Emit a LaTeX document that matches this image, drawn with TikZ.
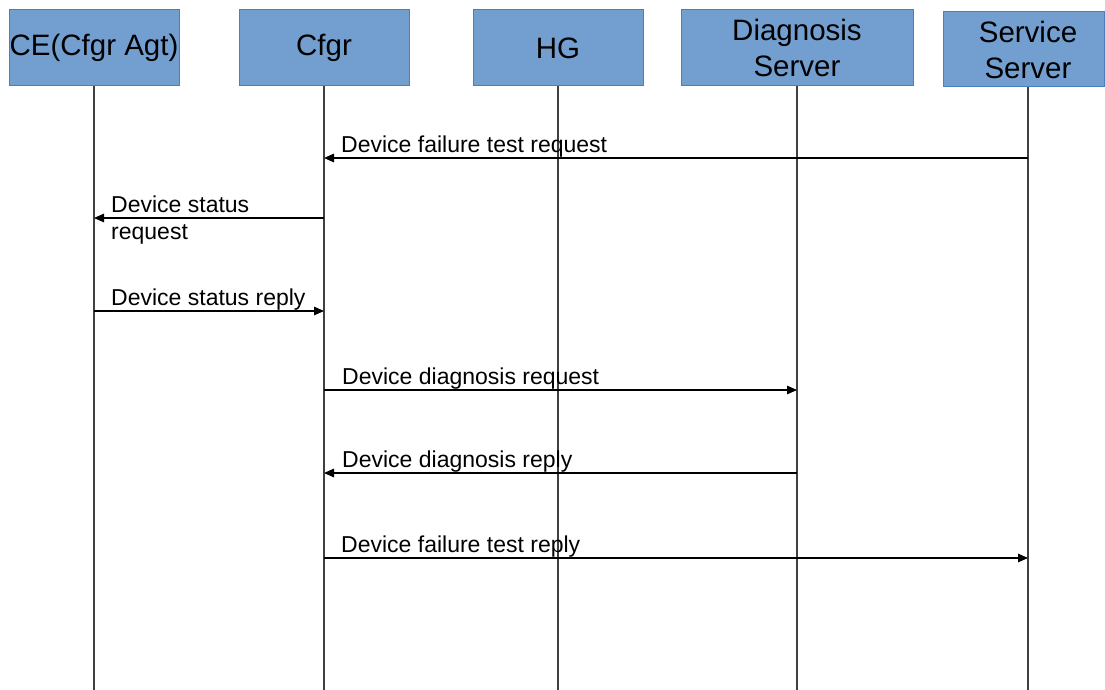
\documentclass[tikz,border=0pt]{standalone}
\usepackage{fontspec}
\setmainfont{Liberation Sans}
\usetikzlibrary{arrows.meta}
\definecolor{boxfill}{HTML}{729FCF}
\definecolor{boxline}{HTML}{4A7EBF}
\definecolor{lifeline}{HTML}{404040}
\begin{document}
\begin{tikzpicture}[x=1pt,y=-1pt,
  actor/.style={draw=boxline,fill=boxfill,line width=1pt,inner sep=0pt,
    align=center,font=\fontsize{29.5}{36}\selectfont},
  actortext/.style={inner sep=0pt,align=center,font=\fontsize{29.5}{36}\selectfont},
  life/.style={draw=lifeline,line width=1.2pt},
  msg/.style={draw=black,line width=1.3pt,-{Triangle[length=10pt,width=8.5pt]}},
  msgtext/.style={anchor=base west,inner sep=0pt,align=left,
    font=\fontsize{23}{27}\selectfont}]
\useasboundingbox (0,0) rectangle (1105,690);

% participants
\node[actor,minimum width=170,minimum height=76] (ce)  at (94,48)   {CE(Cfgr Agt)};
\node[actor,minimum width=170,minimum height=76] (cf)  at (324,48)  {Cfgr};
\node[actor,minimum width=170,minimum height=76] (hg)  at (558,48)  {HG};
\node[actor,minimum width=232,minimum height=76] (ds)  at (797,48)  {Diagnosis\\Server};
\node[actor,minimum width=161,minimum height=75] (ss)  at (1023.5,49.5) {};
\node[actortext] (sst) at (1028,49.5) {Service\\Server};

% lifeline ends
\coordinate (ceE) at (94,690);
\coordinate (cfE) at (324,690);
\coordinate (hgE) at (558,690);
\coordinate (dsE) at (797,690);
\coordinate (ssE) at (1028,690);

\draw[life] (ce.south) -- (ceE);
\draw[life] (cf.south) -- (cfE);
\draw[life] (hg.south) -- (hgE);
\draw[life] (ds.south) -- (dsE);
\draw[life] (ss.south -| ssE) -- (ssE);

% message end points on the lifelines
\coordinate (ss1) at (1028,158); \coordinate (cf1) at (324,158);
\coordinate (cf2) at (324,218);  \coordinate (ce2) at (94,218);
\coordinate (ce3) at (94,311);   \coordinate (cf3) at (324,311);
\coordinate (cf4) at (324,390);  \coordinate (ds4) at (797,390);
\coordinate (ds5) at (797,473);  \coordinate (cf5) at (324,473);
\coordinate (cf6) at (324,558);  \coordinate (ss6) at (1028,558);

% messages
\draw[msg] (ss1) -- (cf1);
\draw[msg] (cf2) -- (ce2);
\draw[msg] (ce3) -- (cf3);
\draw[msg] (cf4) -- (ds4);
\draw[msg] (ds5) -- (cf5);
\draw[msg] (cf6) -- (ss6);

% message labels
\node[msgtext] (l1) at (341,152) {Device failure test request};
\node[msgtext] (l2a) at (111,212) {Device status};
\node[msgtext] (l2b) at (111,239) {request};
\node[msgtext] (l3) at (111,305) {Device status reply};
\node[msgtext] (l4) at (342,384) {Device diagnosis request};
\node[msgtext] (l5) at (342,467) {Device diagnosis reply};
\node[msgtext] (l6) at (341,552) {Device failure test reply};
\end{tikzpicture}
\end{document}
